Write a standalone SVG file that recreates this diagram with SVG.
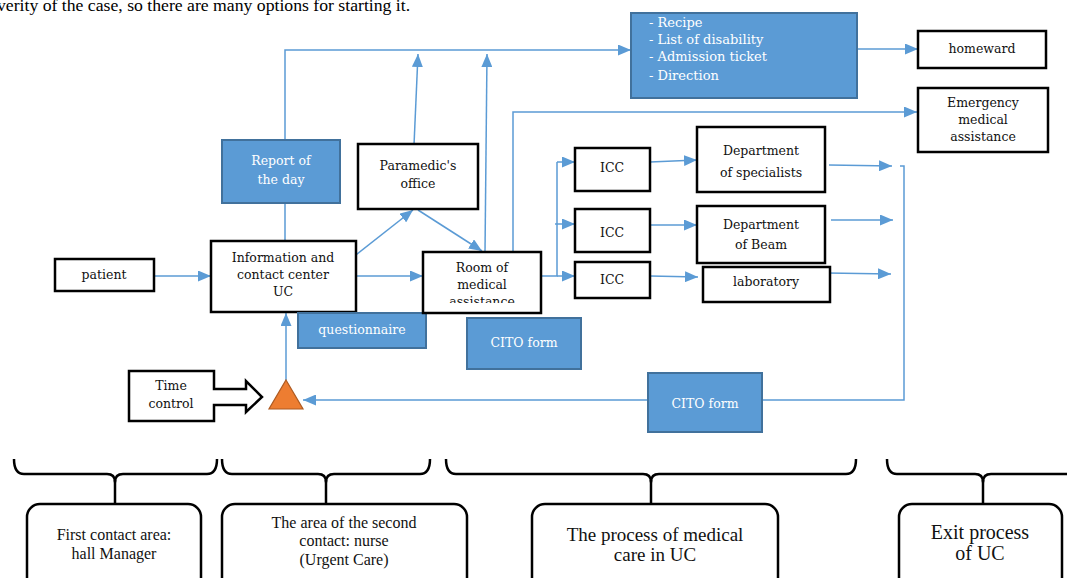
<svg xmlns="http://www.w3.org/2000/svg" width="1067" height="578" viewBox="0 0 1067 578">
  <style>
    .box { fill: #ffffff; stroke: #000000; stroke-width: 2.5; }
    .doc { fill: #5b9bd5; stroke: #41719c; stroke-width: 2; }
    .area { fill: #ffffff; stroke: #000000; stroke-width: 2.5; }
    .brace { fill: none; stroke: #000000; stroke-width: 2.5; stroke-linejoin: round; }
    .flow { fill: none; stroke: #5b9bd5; stroke-width: 1.5; }
    .arr { marker-end: url(#head); }
    text { font-family: "DejaVu Serif", "Liberation Serif", serif; font-size: 12.5px; fill: #111111; text-anchor: middle; }
    .w { fill: #ffffff; }
    .lst { text-anchor: start; font-size: 13px; }
    .tnr { font-family: "Liberation Serif", "Times New Roman", serif; }
    .s16 { font-size: 16px; }
    .s19 { font-size: 19px; }
    .s20 { font-size: 20px; }
  </style>
  <defs>
    <marker id="head" markerUnits="userSpaceOnUse" markerWidth="13" markerHeight="11" refX="13" refY="5.5" orient="auto">
      <path d="M0,0 L13,5.5 L0,11 z" fill="#5b9bd5"/>
    </marker>
    <clipPath id="roomClip">
      <rect x="424" y="253" width="116" height="50"/>
    </clipPath>
  </defs>

  <!-- running text above the figure -->
  <text class="tnr" x="-3" y="10.5" style="text-anchor:start;font-size:17.7px;fill:#000">verity of the case, so there are many options for starting it.</text>

  <!-- connectors -->
  <g id="connectors">
    <path class="flow arr" d="M154,276 H211"/>
    <path class="flow arr" d="M356,276 H423"/>
    <path class="flow arr" d="M352,258 L413,210"/>
    <path class="flow arr" d="M418,210 L482,251"/>
    <path class="flow arr" d="M414,145 L418,54"/>
    <path class="flow arr" d="M485,252 L487,54"/>
    <path class="flow arr" d="M285,241 V50 H631"/>
    <path class="flow arr" d="M513,252 V112 H917"/>
    <path class="flow arr" d="M857,49 H918"/>
    <path class="flow" d="M541,276 H557 V162"/>
    <path class="flow arr" d="M557,162 H575"/>
    <path class="flow arr" d="M555,224 H575"/>
    <path class="flow arr" d="M557,276 H575"/>
    <path class="flow arr" d="M650,162 L697,160"/>
    <path class="flow arr" d="M650,225 H697"/>
    <path class="flow arr" d="M650,276 L698,277"/>
    <path class="flow arr" d="M829,165 L892,166"/>
    <path class="flow arr" d="M831,220 L893,220"/>
    <path class="flow arr" d="M827,273 L891,274"/>
    <path class="flow arr" d="M900,166 H904 V400 H303"/>
    <path class="flow arr" d="M286,380 V313"/>
  </g>

  <!-- documents issued on exit -->
  <g id="docs">
    <rect class="doc" x="631" y="13" width="226" height="85"/>
    <text class="w lst" x="649" y="27">- Recipe</text>
    <text class="w lst" x="649" y="44">- List of disability</text>
    <text class="w lst" x="649" y="61">- Admission ticket</text>
    <text class="w lst" x="649" y="80">- Direction</text>
  </g>

  <g id="homeward">
    <rect class="box" x="918" y="31" width="128" height="37"/>
    <text x="982" y="53">homeward</text>
  </g>

  <g id="emergency">
    <rect class="box" x="918" y="88" width="130" height="64"/>
    <text x="983" y="107">Emergency</text>
    <text x="983" y="124">medical</text>
    <text x="983" y="141">assistance</text>
  </g>

  <g id="report">
    <rect class="doc" x="222" y="140" width="118" height="63"/>
    <text class="w" x="281" y="165">Report of</text>
    <text class="w" x="281" y="184">the day</text>
  </g>

  <g id="paramedic">
    <rect class="box" x="358" y="144" width="120" height="65"/>
    <text x="418" y="170">Paramedic's</text>
    <text x="418" y="188">office</text>
  </g>

  <g id="patient">
    <rect class="box" x="55" y="259" width="99" height="32"/>
    <text x="104" y="279">patient</text>
  </g>

  <g id="info-center">
    <rect class="box" x="211" y="241" width="145" height="71"/>
    <text x="283" y="262">Information and</text>
    <text x="283" y="279">contact center</text>
    <text x="283" y="296">UC</text>
  </g>

  <g id="questionnaire">
    <rect class="doc" x="298" y="313" width="128" height="35"/>
    <text class="w" x="362" y="334">questionnaire</text>
  </g>

  <g id="room">
    <rect class="box" x="423" y="252" width="118" height="61"/>
    <g clip-path="url(#roomClip)">
      <text x="482" y="272">Room of</text>
      <text x="482" y="289">medical</text>
      <text x="482" y="306">assistance</text>
    </g>
  </g>

  <g id="cito-1">
    <rect class="doc" x="467" y="318" width="114" height="51"/>
    <text class="w" x="524" y="347">CITO form</text>
  </g>

  <g id="cito-2">
    <rect class="doc" x="648" y="373" width="114" height="59"/>
    <text class="w" x="705" y="408">CITO form</text>
  </g>

  <g id="icc-1">
    <rect class="box" x="575" y="148" width="75" height="43"/>
    <text x="612" y="172">ICC</text>
  </g>
  <g id="icc-2">
    <rect class="box" x="575" y="209" width="75" height="43"/>
    <text x="612" y="237">ICC</text>
  </g>
  <g id="icc-3">
    <rect class="box" x="575" y="262" width="75" height="36"/>
    <text x="612" y="284">ICC</text>
  </g>

  <g id="dept-specialists">
    <rect class="box" x="697" y="127" width="128" height="65"/>
    <text x="761" y="155">Department</text>
    <text x="761" y="177">of specialists</text>
  </g>
  <g id="dept-beam">
    <rect class="box" x="697" y="206" width="128" height="57"/>
    <text x="761" y="229">Department</text>
    <text x="761" y="249">of Beam</text>
  </g>
  <g id="laboratory">
    <rect class="box" x="703" y="267" width="127" height="35"/>
    <text x="766" y="286">laboratory</text>
  </g>

  <g id="time-control">
    <path class="box" d="M129,371 H214 V389 H246 V381 L262,397 L246,412 V405 H214 V421 H129 Z"/>
    <text x="171" y="390">Time</text>
    <text x="171" y="408">control</text>
  </g>

  <g id="control-point">
    <path d="M286,380 L303,409 L269,409 Z" fill="#ed7d31" stroke="#ae5a21" stroke-width="1.2"/>
  </g>

  <!-- zone braces -->
  <g id="braces">
    <path class="brace" d="M14,459 Q14,474 24,474 H107 Q115,474 115,482 Q115,474 123,474 H207 Q217,474 217,459"/>
    <path class="brace" d="M115,480 V504"/>
    <path class="brace" d="M222,459 Q222,474 232,474 H318 Q326,474 326,482 Q326,474 334,474 H420 Q430,474 430,459"/>
    <path class="brace" d="M326,480 V504"/>
    <path class="brace" d="M446,459 Q446,474 456,474 H643 Q651,474 651,482 Q651,474 659,474 H846 Q856,474 856,459"/>
    <path class="brace" d="M651,480 V504"/>
    <path class="brace" d="M887,459 Q887,474 897,474 H975 Q983,474 983,482 Q983,474 991,474 H1080"/>
    <path class="brace" d="M983,480 V504"/>
  </g>

  <g id="zone-first">
    <rect class="area" x="27" y="504" width="174" height="90" rx="13"/>
    <text class="tnr s16" x="114" y="540">First contact area:</text>
    <text class="tnr s16" x="114" y="559">hall Manager</text>
  </g>
  <g id="zone-second">
    <rect class="area" x="222" y="504" width="245" height="90" rx="13"/>
    <text class="tnr s16" x="344" y="528">The area of the second</text>
    <text class="tnr s16" x="344" y="546">contact: nurse</text>
    <text class="tnr s16" x="344" y="565">(Urgent Care)</text>
  </g>
  <g id="zone-care">
    <rect class="area" x="532" y="504" width="246" height="90" rx="13"/>
    <text class="tnr s19" x="655" y="541">The process of medical</text>
    <text class="tnr s19" x="655" y="561">care in UC</text>
  </g>
  <g id="zone-exit">
    <rect class="area" x="899" y="504" width="163" height="90" rx="13"/>
    <text class="tnr s20" x="980" y="539">Exit process</text>
    <text class="tnr s20" x="980" y="560">of UC</text>
  </g>
</svg>
